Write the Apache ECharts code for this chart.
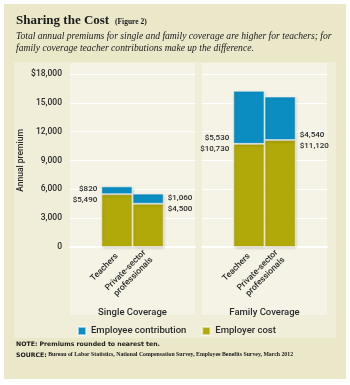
<!DOCTYPE html>
<html>
<head>
<meta charset="utf-8">
<script src="https://cdn.jsdelivr.net/npm/echarts@6/dist/echarts.min.js"></script>
<style>
  html, body { margin: 0; padding: 0; background: #fff; }
  #chart { width: 350px; height: 385px; }
</style>
</head>
<body>
<div id="chart"></div>
<script>
// data
var groups = ['Single Coverage', 'Family Coverage'];
var categories = ['Teachers', 'Private-sector\nprofessionals'];
var employeeSingle = [820, 1060];
var employerSingle = [5490, 4500];
var employeeFamily = [5530, 4540];
var employerFamily = [10730, 11120];
var yTicks = [0, 3000, 6000, 9000, 12000, 15000, 18000];

var BLUE = '#0b8dc1';
var OLIVE = '#b1a909';
var FONT = 'Roboto';

function money(v) {
    return '$' + v.toLocaleString('en-US');
}

// pad categories with an empty slot on each side so the bars sit side by side
var padCats = [''].concat(categories, ['']);

// label goes left of the first bar and right of the second one
function barData(values, upper) {
    var out = ['-'];
    values.forEach(function (v, i) {
        var left = i === 0;
        out.push({
            value: v,
            label: {
                show: true,
                formatter: money(v),
                position: [left ? -4 : '100%', upper ? '100%' : 0],
                offset: [left ? 0 : 4, upper ? -1 : 1],
                align: left ? 'right' : 'left',
                verticalAlign: upper ? 'bottom' : 'top',
                fontFamily: FONT,
                fontSize: 8,
                fontWeight: 500,
                lineHeight: 9,
                color: '#2a2a2a'
            }
        });
    });
    out.push('-');
    return out;
}

var barStyle = {
    borderColor: 'rgba(255,255,255,0.55)',
    borderWidth: 1,
    shadowBlur: 3,
    shadowOffsetX: 1,
    shadowOffsetY: 1,
    shadowColor: 'rgba(0,0,0,0.18)'
};

function makeX(idx, name) {
    return {
        type: 'category',
        gridIndex: idx,
        data: padCats,
        name: name,
        nameLocation: 'middle',
        nameGap: 61,
        nameTextStyle: { fontFamily: FONT, fontSize: 9.5, fontWeight: 500, color: '#2a2a2a' },
        axisLine: { lineStyle: { color: '#fff', width: 2 } },
        axisTick: {
            alignWithLabel: true,
            length: 4,
            interval: function (i, v) { return v !== ''; },
            lineStyle: { color: '#d8d5c0' }
        },
        axisLabel: {
            interval: 0,
            rotate: 45,
            margin: 8,
            fontFamily: FONT,
            fontSize: 8.5,
            fontWeight: 500,
            lineHeight: 10,
            color: '#2a2a2a'
        }
    };
}

function makeY(idx, showLabels) {
    return {
        type: 'value',
        gridIndex: idx,
        min: yTicks[0],
        max: yTicks[yTicks.length - 1],
        interval: yTicks[1] - yTicks[0],
        name: showLabels ? 'Annual premium' : '',
        nameLocation: 'middle',
        nameRotate: 90,
        nameGap: 45,
        nameTextStyle: { fontFamily: FONT, fontSize: 8.5, fontWeight: 500, color: '#2a2a2a' },
        axisLine: { show: false },
        axisTick: { show: false },
        axisLabel: {
            show: showLabels,
            margin: 8,
            fontFamily: FONT,
            fontSize: 8.5,
            fontWeight: 500,
            color: '#2a2a2a',
            formatter: function (v) {
                return v === 18000 ? '$18,000' : v.toLocaleString('en-US');
            }
        },
        splitLine: { lineStyle: { color: '#ffffff', width: 1 } }
    };
}

var chart = echarts.init(document.getElementById('chart'), null, { renderer: 'canvas' });
chart.setOption({
    backgroundColor: '#ffffff',
    animation: false,
    graphic: [
        { type: 'rect', z: -10, shape: { x: 4, y: 4, width: 342, height: 375 }, style: { fill: '#ebe7c9' } },
        { type: 'rect', z: -9, shape: { x: 14, y: 62, width: 322, height: 276 }, style: { fill: '#f0edd9' } },
        { type: 'rect', z: -8, shape: { x: 70, y: 63, width: 125, height: 252 }, style: { fill: '#f5f3e5' } },
        { type: 'rect', z: -8, shape: { x: 202, y: 63, width: 125, height: 252 }, style: { fill: '#f5f3e5' } },
        {
            type: 'text', left: 16, top: 14,
            style: { text: 'Sharing the Cost', font: 'bold 13px "Liberation Serif"', fill: '#1a1a1a' }
        },
        {
            type: 'text', left: 115, top: 18,
            style: { text: '(Figure 2)', font: 'bold 7.5px "Liberation Serif"', fill: '#1a1a1a' }
        },
        {
            type: 'text', left: 16, top: 30,
            style: {
                text: 'Total annual premiums for single and family coverage are higher for teachers; for\nfamily coverage teacher contributions make up the difference.',
                font: 'italic 9.6px "Liberation Serif"',
                lineHeight: 12,
                fill: '#1a1a1a'
            }
        },
        {
            type: 'text', left: 16, top: 341,
            style: { text: 'NOTE: Premiums rounded to nearest ten.', font: 'bold 6.2px "DejaVu Sans"', fill: '#1a1a1a' }
        },
        {
            type: 'text', left: 16, top: 352,
            style: {
                text: '{b|SOURCE:} Bureau of Labor Statistics, National Compensation Survey, Employee Benefits Survey, March 2012',
                font: 'bold 5.8px "Liberation Serif"',
                fill: '#1a1a1a',
                rich: {
                    b: { font: 'bold 6.2px "DejaVu Sans"', fill: '#1a1a1a' }
                }
            }
        }
    ],
    legend: {
        data: ['Employee contribution', 'Employer cost'],
        left: 72,
        top: 321,
        icon: 'rect',
        itemWidth: 8,
        itemHeight: 8,
        itemGap: 15,
        textStyle: { fontFamily: FONT, fontSize: 9.5, fontWeight: 500, color: '#2a2a2a' }
    },
    grid: [
        { left: 70, top: 74, width: 125, height: 173 },
        { left: 202, top: 74, width: 125, height: 173 }
    ],
    xAxis: [makeX(0, groups[0]), makeX(1, groups[1])],
    yAxis: [makeY(0, true), makeY(1, false)],
    series: [
        {
            name: 'Employer cost', type: 'bar', stack: 's', xAxisIndex: 0, yAxisIndex: 0,
            barCategoryGap: '0%', itemStyle: Object.assign({ color: OLIVE }, barStyle),
            data: barData(employerSingle, false)
        },
        {
            name: 'Employee contribution', type: 'bar', stack: 's', xAxisIndex: 0, yAxisIndex: 0,
            barCategoryGap: '0%', itemStyle: Object.assign({ color: BLUE }, barStyle),
            data: barData(employeeSingle, true)
        },
        {
            name: 'Employer cost', type: 'bar', stack: 'f', xAxisIndex: 1, yAxisIndex: 1,
            barCategoryGap: '0%', itemStyle: Object.assign({ color: OLIVE }, barStyle),
            data: barData(employerFamily, false)
        },
        {
            name: 'Employee contribution', type: 'bar', stack: 'f', xAxisIndex: 1, yAxisIndex: 1,
            barCategoryGap: '0%', itemStyle: Object.assign({ color: BLUE }, barStyle),
            data: barData(employeeFamily, true)
        }
    ]
});
</script>
</body>
</html>
